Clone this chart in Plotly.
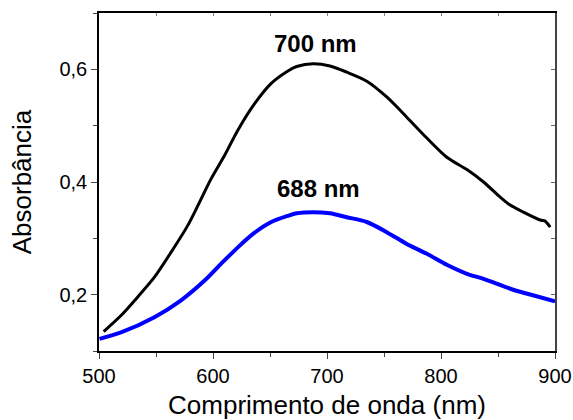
import plotly.graph_objects as go

# Black spectrum (peak ~700 nm)
wl_black = [504.1, 519.3, 534, 548.6, 563.3, 577.9, 586.7, 598.4, 610.1, 621.8, 636.5, 651.1,
            665.7, 673.4, 688, 702.6, 717.3, 734.9, 752.4, 770, 787.6, 805.1, 822.7, 837.3,
            852, 860.7, 871.8, 887.8, 891, 895.8]
abs_black = [0.1346, 0.163, 0.196, 0.231, 0.2755, 0.323, 0.358, 0.406, 0.447, 0.492, 0.539, 0.575,
             0.597, 0.605, 0.610, 0.606, 0.595, 0.579, 0.551, 0.515, 0.478, 0.444, 0.422, 0.400,
             0.373, 0.359, 0.347, 0.332, 0.331, 0.320]

# Blue spectrum (peak ~688 nm)
wl_blue = [500.4, 519.3, 548.6, 572, 592.6, 607.2, 621.8, 636.5, 651.1, 665.7, 673.4, 688,
           702.6, 717.3, 734.9, 752.4, 770, 787.6, 805.1, 822.7, 837.3, 860.7, 875, 900]
abs_blue = [0.1216, 0.133, 0.160, 0.190, 0.225, 0.255, 0.284, 0.310, 0.329, 0.340, 0.3445, 0.3465,
            0.3445, 0.3375, 0.329, 0.311, 0.290, 0.2726, 0.253, 0.237, 0.228, 0.2105, 0.202, 0.188]

x_ticks = [500, 600, 700, 800, 900]
y_ticks = [0.2, 0.4, 0.6]
y_tick_labels = ["0,2", "0,4", "0,6"]

labels = ["700 nm", "688 nm"]
label_x = [689.7, 692.3]
label_y = [0.6456, 0.388]

FONT = "Arial, Liberation Sans, sans-serif"

fig = go.Figure()
fig.add_trace(go.Scatter(x=wl_black, y=abs_black, mode="lines",
                         line=dict(color="black", width=3, shape="spline", smoothing=0.8),
                         showlegend=False))
fig.add_trace(go.Scatter(x=wl_blue, y=abs_blue, mode="lines",
                         line=dict(color="#0000ff", width=4, shape="spline", smoothing=0.8),
                         showlegend=False))
# invisible trace to activate mirror axes
fig.add_trace(go.Scatter(x=[500], y=[0.1], xaxis="x2", yaxis="y2", mode="markers",
                         marker=dict(opacity=0), showlegend=False, hoverinfo="skip"))

for t, xx, yy in zip(labels, label_x, label_y):
    fig.add_annotation(x=xx, y=yy, text=f"<b>{t}</b>", showarrow=False,
                       font=dict(family=FONT, size=24, color="black"))

fig.update_layout(
    width=573, height=420,
    margin=dict(l=99, r=18, t=13, b=69, autoexpand=False),
    paper_bgcolor="white", plot_bgcolor="white",
    font=dict(family=FONT, color="black"),
    xaxis=dict(range=[500, 900], tickvals=x_ticks, ticks="outside", ticklen=6, tickwidth=1,
               minor=dict(dtick=50, tick0=500, ticks="outside", ticklen=4, tickwidth=1),
               showline=True, linecolor="black", linewidth=1.5, showgrid=False, zeroline=False,
               tickfont=dict(size=20), automargin=False,
               title=dict(text="Comprimento de onda (nm)", font=dict(size=26), standoff=12)),
    yaxis=dict(range=[0.1, 0.7], tickvals=y_ticks, ticktext=y_tick_labels,
               ticks="outside", ticklen=6, tickwidth=1,
               minor=dict(dtick=0.1, tick0=0.1, ticks="outside", ticklen=4, tickwidth=1),
               showline=True, linecolor="black", linewidth=1.5, showgrid=False, zeroline=False,
               tickfont=dict(size=20), automargin=False,
               title=dict(text="Absorbância", font=dict(size=26), standoff=20)),
    xaxis2=dict(range=[500, 900], overlaying="x", side="top", dtick=50, tick0=500,
                ticks="inside", ticklen=3, tickcolor="#888", showticklabels=False,
                showline=True, linecolor="black", linewidth=1.5, showgrid=False, zeroline=False,
                automargin=False),
    yaxis2=dict(range=[0.1, 0.7], overlaying="y", side="right", dtick=0.1, tick0=0.1,
                ticks="inside", ticklen=4, tickcolor="#666", showticklabels=False,
                showline=True, linecolor="#444", linewidth=1.5, showgrid=False, zeroline=False,
                automargin=False),
)

fig.write_html("out.html", config={"displayModeBar": False},
               post_script="document.body.style.margin='0px';")
